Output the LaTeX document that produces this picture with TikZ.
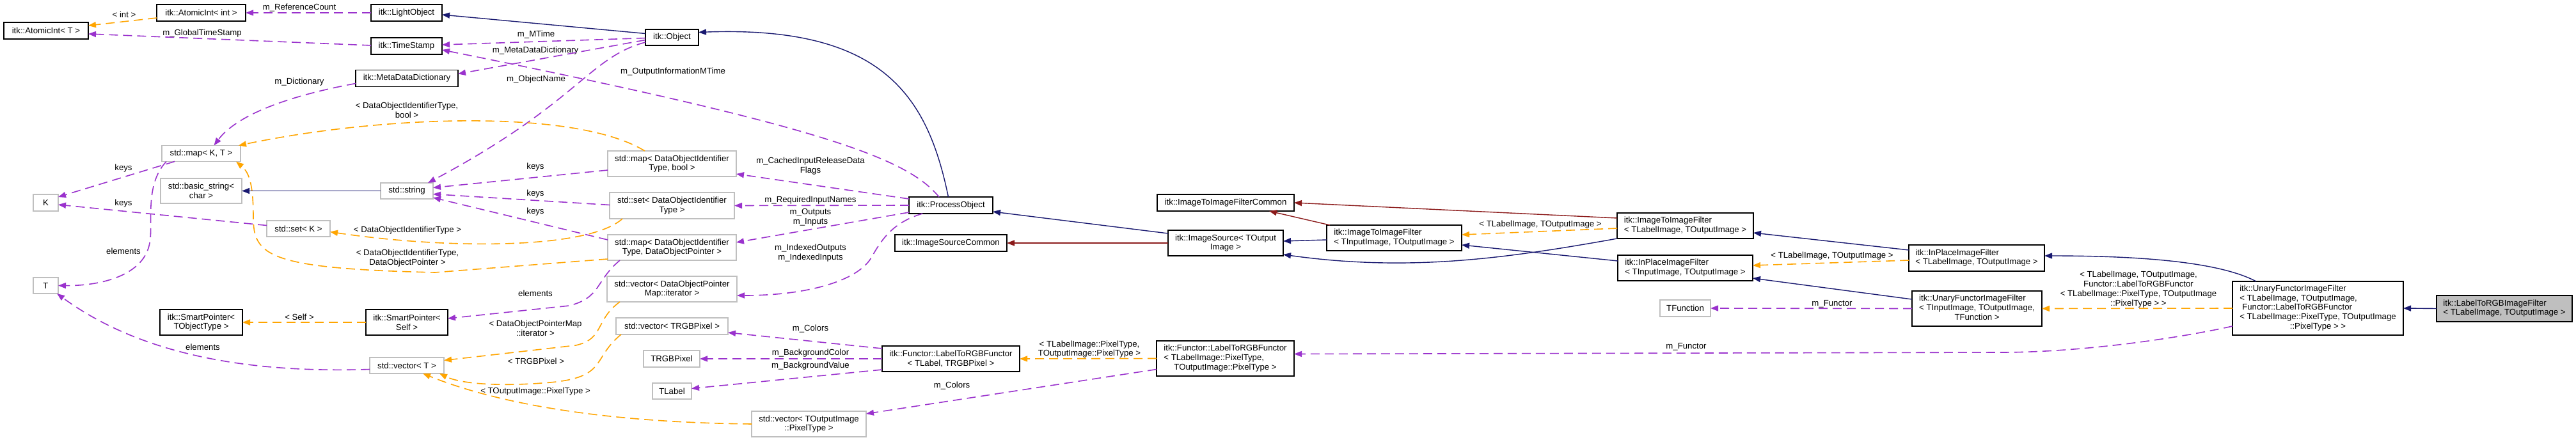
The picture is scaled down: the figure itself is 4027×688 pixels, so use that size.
\documentclass[tikz,border=0pt]{standalone}
\usepackage{fontspec}
\setmainfont{Liberation Sans}
\usetikzlibrary{arrows.meta,calc}
\definecolor{navyE}{HTML}{191970}
\definecolor{redE}{HTML}{8B1A1A}
\definecolor{orE}{HTML}{FFA500}
\definecolor{puE}{HTML}{9A32CD}
\definecolor{grB}{HTML}{BFBFBF}
\newcommand{\LeftBlock}[1]{\begin{tabular}{@{}l@{}}#1\end{tabular}}
\newcommand{\CtrLine}[1]{\multicolumn{1}{@{}c@{}}{#1}}
\begin{document}
\begin{tikzpicture}[x=1pt,y=-1pt,
  every node/.style={font=\fontsize{13.2}{14.8}\selectfont, inner sep=0pt, outer sep=0pt},
  bbox/.style={draw=black, line width=1.6pt, fill=white, rectangle, align=center},
  gbox/.style={draw=grB, line width=1.6pt, fill=white, rectangle, align=center},
  mbox/.style={draw=black, line width=1.6pt, fill=grB, rectangle},
  elab/.style={align=center},
  tipA/.style={-{Triangle[length=12pt,width=9pt]}},
  inhedge/.style={tipA, draw=navyE, line width=1.4pt},
  privedge/.style={tipA, draw=redE, line width=1.4pt},
  usedge/.style={tipA, draw=puE, line width=1.6pt, dash pattern=on 14pt off 8pt},
  tmpledge/.style={tipA, draw=orE, line width=1.6pt, dash pattern=on 14pt off 8pt}
]
\fill[white] (0,0) rectangle (4027,688);
\useasboundingbox (0,0) rectangle (4027,688);

% ---------- nodes ----------
\node[bbox, minimum width=132, minimum height=26] (aiT) at (72,48) {itk::AtomicInt< T >};
\node[bbox, minimum width=139, minimum height=26] (aiInt) at (314.5,20) {itk::AtomicInt< int >};
\node[bbox, minimum width=111, minimum height=26] (light) at (635.5,20) {itk::LightObject};
\node[bbox, minimum width=111, minimum height=26] (ts) at (635.5,72) {itk::TimeStamp};
\node[bbox, minimum width=160, minimum height=26] (mdd) at (636,122.5) {itk::MetaDataDictionary};
\node[gbox, minimum width=123, minimum height=25] (mapKT) at (314.5,240) {std::map< K, T >};
\node[gbox, minimum width=39, minimum height=26] (K) at (71.5,317) {K};
\node[gbox, minimum width=127, minimum height=39] (bstr) at (314.5,298.5) {std::basic\_string<\\char >};
\node[gbox, minimum width=82, minimum height=25] (str) at (636,298.5) {std::string};
\node[gbox, minimum width=39, minimum height=25] (T) at (71.5,446.5) {T};
\node[gbox, minimum width=99, minimum height=25] (setK) at (466.5,357.5) {std::set< K >};
\node[bbox, minimum width=129, minimum height=40] (spTO) at (314.5,504) {itk::SmartPointer<\\TObjectType >};
\node[bbox, minimum width=128, minimum height=40] (spSelf) at (636,504) {itk::SmartPointer<\\Self >};
\node[gbox, minimum width=116, minimum height=25] (vecT) at (636,571.5) {std::vector< T >};
\node[bbox, minimum width=83, minimum height=25] (obj) at (1050.5,58.5) {itk::Object};
\node[gbox, minimum width=201, minimum height=40] (mapB) at (1050.5,256) {std::map< DataObjectIdentifier\\Type, bool >};
\node[gbox, minimum width=195, minimum height=41] (setD) at (1050.5,321.5) {std::set< DataObjectIdentifier\\Type >};
\node[gbox, minimum width=201, minimum height=40] (mapP) at (1050.5,387) {std::map< DataObjectIdentifier\\Type, DataObjectPointer >};
\node[gbox, minimum width=203, minimum height=40] (vecI) at (1050.5,452) {std::vector< DataObjectPointer\\Map::iterator >};
\node[gbox, minimum width=175, minimum height=26] (vecRGB) at (1050.5,510) {std::vector< TRGBPixel >};
\node[gbox, minimum width=88, minimum height=26] (rgb) at (1050,561) {TRGBPixel};
\node[gbox, minimum width=61, minimum height=25] (tlabel) at (1050.5,611.5) {TLabel};
\node[gbox, minimum width=179, minimum height=40] (vecO) at (1264.5,663) {std::vector< TOutputImage\\::PixelType >};
\node[bbox, minimum width=131, minimum height=26] (po) at (1486.5,321) {itk::ProcessObject};
\node[bbox, minimum width=175, minimum height=26] (isc) at (1486.5,380) {itk::ImageSourceCommon};
\node[bbox, minimum width=215, minimum height=40] (fun1) at (1486.5,561) {itk::Functor::LabelToRGBFunctor\\< TLabel, TRGBPixel >};
\node[bbox, minimum width=214, minimum height=26] (i2ic) at (1916,317) {itk::ImageToImageFilterCommon};
\node[bbox, minimum width=180, minimum height=40] (isrc) at (1916,380) {itk::ImageSource< TOutput\\Image >};
\node[bbox, minimum width=215, minimum height=55] (fun2) at (1915.5,560.5) {\LeftBlock{itk::Functor::LabelToRGBFunctor\\< TLabelImage::PixelType,\\\CtrLine{TOutputImage::PixelType >}}};
\node[bbox, minimum width=211, minimum height=40] (i2iI) at (2179.5,372) {\LeftBlock{itk::ImageToImageFilter\\< TInputImage, TOutputImage >}};
\node[bbox, minimum width=213, minimum height=40] (i2iL) at (2634.5,353) {\LeftBlock{itk::ImageToImageFilter\\< TLabelImage, TOutputImage >}};
\node[bbox, minimum width=211, minimum height=40] (ipI) at (2634.5,419) {\LeftBlock{itk::InPlaceImageFilter\\< TInputImage, TOutputImage >}};
\node[gbox, minimum width=79, minimum height=26] (tfun) at (2634.5,482) {TFunction};
\node[bbox, minimum width=212, minimum height=41] (ipL) at (3090,403.5) {\LeftBlock{itk::InPlaceImageFilter\\< TLabelImage, TOutputImage >}};
\node[bbox, minimum width=203, minimum height=55] (ufI) at (3090.5,482.5) {\LeftBlock{itk::UnaryFunctorImageFilter\\< TInputImage, TOutputImage,\\\CtrLine{TFunction >}}};
\node[bbox, minimum width=267, minimum height=84] (ufL) at (3623.5,482) {\LeftBlock{itk::UnaryFunctorImageFilter\\< TLabelImage, TOutputImage,\\\hspace*{4pt}Functor::LabelToRGBFunctor\\< TLabelImage::PixelType, TOutputImage\\\CtrLine{::PixelType > >}}};
\node[mbox, minimum width=212, minimum height=41] (main) at (3915,482.5) {\LeftBlock{itk::LabelToRGBImageFilter\\< TLabelImage, TOutputImage >}};

% ---------- edge labels ----------
\node[elab] (lb1) at (194,23) {< int >};
\node[elab] (lb2) at (468,12) {m\_ReferenceCount};
\node[elab] (lb3) at (316,52) {m\_GlobalTimeStamp};
\node[elab] (lb4) at (838,54) {m\_MTime};
\node[elab] (lb5) at (837,79) {m\_MetaDataDictionary};
\node[elab] (lb6) at (838,124) {m\_ObjectName};
\node[elab] (lb7) at (1052,112) {m\_OutputInformationMTime};
\node[elab] (lb8) at (468,128) {m\_Dictionary};
\node[elab] (lb9) at (636,172.5) {< DataObjectIdentifierType,\\bool >};
\node[elab] (lb10) at (193,263) {keys};
\node[elab] (lb11) at (193,318) {keys};
\node[elab] (lb12) at (193,393) {elements};
\node[elab] (lb13) at (637,360) {< DataObjectIdentifierType >};
\node[elab] (lb14) at (637,403.5) {< DataObjectIdentifierType,\\DataObjectPointer >};
\node[elab] (lb15) at (468,496) {< Self >};
\node[elab] (lb16) at (317,543) {elements};
\node[elab] (lb17) at (837,261) {keys};
\node[elab] (lb18) at (837,303) {keys};
\node[elab] (lb19) at (837,331) {keys};
\node[elab] (lb20) at (1267,259.5) {m\_CachedInputReleaseData\\Flags};
\node[elab] (lb21) at (1267,313) {m\_RequiredInputNames};
\node[elab] (lb22) at (1267,340) {m\_Outputs\\m\_Inputs};
\node[elab] (lb23) at (1267,395.5) {m\_IndexedOutputs\\m\_IndexedInputs};
\node[elab] (lb24) at (837,459) {elements};
\node[elab] (lb25) at (837,513.5) {< DataObjectPointerMap\\::iterator >};
\node[elab] (lb26) at (838,565) {< TRGBPixel >};
\node[elab] (lb27) at (837,612) {< TOutputImage::PixelType >};
\node[elab] (lb28) at (1267,514) {m\_Colors};
\node[elab] (lb29) at (1267,552) {m\_BackgroundColor};
\node[elab] (lb30) at (1267,572) {m\_BackgroundValue};
\node[elab] (lb31) at (1703,546) {< TLabelImage::PixelType,\\TOutputImage::PixelType >};
\node[elab] (lb32) at (1488,603) {m\_Colors};
\node[elab] (lb33) at (2408,351) {< TLabelImage, TOutputImage >};
\node[elab] (lb34) at (2864,400) {< TLabelImage, TOutputImage >};
\node[elab] (lb35) at (2864,475) {m\_Functor};
\node[elab] (lb36) at (2636,542) {m\_Functor};
\node[elab] (lb37) at (3343,452.5) {< TLabelImage, TOutputImage,\\Functor::LabelToRGBFunctor\\< TLabelImage::PixelType, TOutputImage\\::PixelType > >};

% ---------- edges ----------
\draw[tmpledge] ($(aiInt.west)+(0,8)$) -- ($(aiT.east)+(0,-8)$);
\draw[usedge] (light.west) -- (aiInt.east);
\draw[usedge] ($(ts.west)+(0,-1)$) -- ($(aiT.east)+(0,5)$);
\draw[inhedge] ($(obj.west)+(0,-6)$) -- ($(light.east)+(0,3)$);
\draw[usedge] ($(obj.west)+(0,1)$) -- ($(ts.east)+(0,-2)$);
\draw[usedge] ($(obj.west)+(0,4)$) -- ($(mdd.east)+(0,-7)$);
\draw[usedge] ($(obj.south west)+(0,-5)$) .. controls (920,90) and (905,160) .. ($(str.north east)+(-8,0)$);
\draw[inhedge] ($(po.north)+(-4,0)$) .. controls (1450,150) and (1380,40) .. ($(obj.east)+(0,-8)$);
\draw[usedge] ($(po.north west)+(47,0)$) .. controls (1420,250) and (1300,200) .. ($(ts.east)+(0,6)$);
\draw[usedge] ($(po.west)+(0,-10)$) -- ($(mapB.east)+(0,16)$);
\draw[usedge] (po.west) -- (setD.east);
\draw[usedge] ($(po.south west)+(0,-2)$) -- ($(mapP.east)+(0,-8)$);
\draw[usedge] ($(po.south west)+(21,0)$) .. controls (1395,348) and (1378,375) .. (1362,403) .. controls (1340,440) and (1260,462) .. ($(vecI.east)+(0,10)$);
\draw[usedge] ($(mapB.west)+(0,10)$) -- ($(str.east)+(0,-5)$);
\draw[usedge] ($(setD.west)+(0,-1)$) -- ($(str.east)+(0,5)$);
\draw[usedge] ($(mapP.west)+(0,-12)$) -- ($(str.south east)+(0,-2)$);
\draw[tmpledge] ($(mapB.north west)+(58,0)$) .. controls (900,170) and (600,180) .. ($(mapKT.north east)+(-3,0)$);
\draw[tmpledge] ($(setD.south west)+(20,0)$) .. controls (920,390) and (700,390) .. ($(setK.east)+(0,5)$);
\draw[tmpledge] ($(mapP.south west)+(0,-2)$) -- (680,426) .. controls (420,420) and (396,400) .. (396,340) .. controls (396,290) and (390,270) .. ($(mapKT.south east)+(-7,0)$);
\draw[usedge] ($(mapKT.south west)+(20,0)$) -- ($(K.north east)+(0,4)$);
\draw[usedge] ($(setK.west)+(0,-5)$) -- ($(K.east)+(0,3)$);
\draw[usedge] ($(mapKT.south west)+(7,0)$) .. controls (225,290) and (240,350) .. (234,380) .. controls (225,430) and (160,447) .. (T.east);
\draw[usedge] ($(vecT.west)+(0,6)$) .. controls (350,585) and (200,540) .. ($(T.south east)+(-2,0)$);
\draw[usedge] ($(mdd.west)+(0,8)$) .. controls (450,150) and (370,180) .. ($(mapKT.north)+(20,0)$);
\draw[inhedge] (str.west) -- (bstr.east);
\draw[tmpledge] (spSelf.west) -- (spTO.east);
\draw[usedge] ($(mapP.south west)+(19,0)$) .. controls (930,440) and (940,465) .. (890,478) -- ($(spSelf.east)+(0,-6)$);
\draw[tmpledge] ($(vecI.south west)+(20,0)$) .. controls (930,500) and (945,530) .. (900,540) -- ($(vecT.east)+(0,-8)$);
\draw[tmpledge] ($(vecRGB.south west)+(8,0)$) .. controls (925,560) and (950,590) .. (860,598) .. controls (780,605) and (720,600) .. ($(vecT.south east)+(-7,0)$);
\draw[tmpledge] (vecO.west) .. controls (900,660) and (750,620) .. ($(vecT.south east)+(-33,0)$);
\draw[usedge] ($(fun1.west)+(0,-16)$) -- ($(vecRGB.east)+(0,10)$);
\draw[usedge] (fun1.west) -- (rgb.east);
\draw[usedge] ($(fun1.west)+(0,17)$) -- ($(tlabel.east)+(0,-4)$);
\draw[tmpledge] (fun2.west) -- (fun1.east);
\draw[usedge] ($(fun2.west)+(0,17)$) -- ($(vecO.east)+(0,-16)$);
\draw[inhedge] ($(isrc.west)+(0,-15)$) -- ($(po.east)+(0,10)$);
\draw[privedge] (isrc.west) -- (isc.east);
\draw[inhedge] ($(i2iI.west)+(0,3)$) -- ($(isrc.east)+(0,-3)$);
\draw[privedge] ($(i2iI.north west)+(5,0)$) -- ($(i2ic.south east)+(-39,0)$);
\draw[inhedge] (i2iL.south west) .. controls (2350,405) and (2200,425) .. ($(isrc.east)+(0,18)$);
\draw[privedge] ($(i2iL.west)+(0,-12)$) -- (i2ic.east);
\draw[tmpledge] ($(i2iL.west)+(0,4)$) -- ($(i2iI.east)+(0,-5)$);
\draw[inhedge] ($(ipI.west)+(0,-11)$) -- ($(i2iI.east)+(0,11)$);
\draw[inhedge] ($(ipL.west)+(0,-12.5)$) -- ($(i2iL.east)+(0,11)$);
\draw[tmpledge] ($(ipL.west)+(0,3.5)$) -- ($(ipI.east)+(0,-4)$);
\draw[inhedge] ($(ufI.west)+(0,-14.5)$) -- ($(ipI.east)+(0,16)$);
\draw[usedge] (ufI.west) -- (tfun.east);
\draw[inhedge] ($(ufL.north west)+(37,0)$) .. controls (3470,410) and (3350,400) .. ($(ipL.east)+(0,-3.5)$);
\draw[tmpledge] (ufL.west) -- (ufI.east);
\draw[usedge] ($(ufL.west)+(0,28)$) .. controls (3400,530) and (3250,551) .. (3127,551) -- ($(fun2.east)+(0,-7)$);
\draw[inhedge] (main.west) -- (ufL.east);
\end{tikzpicture}
\end{document}
